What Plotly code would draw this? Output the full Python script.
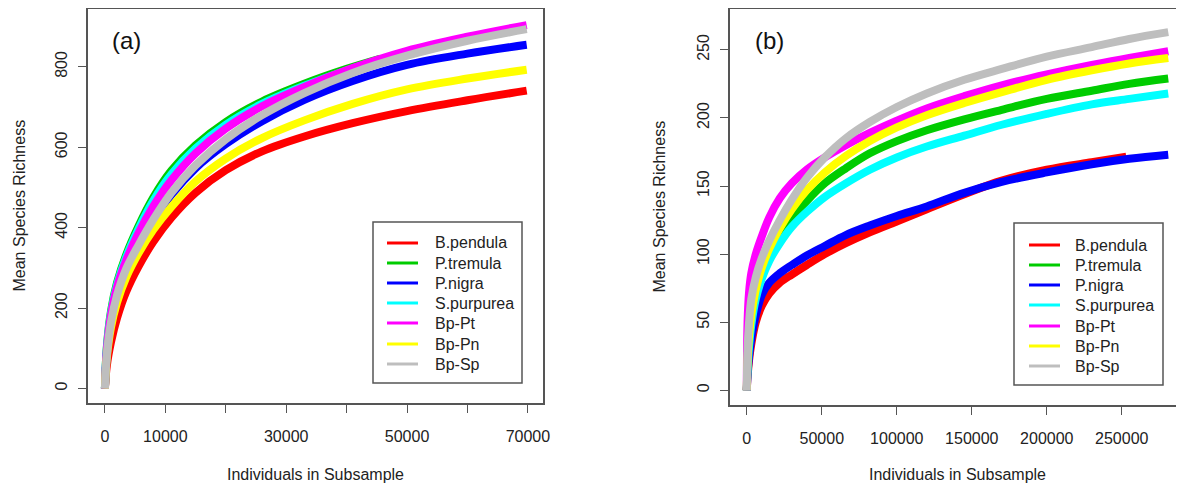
import plotly.graph_objects as go

# Series names and colours (drawn in this order, last on top)
names = ["B.pendula", "P.tremula", "P.nigra", "S.purpurea", "Bp-Pt", "Bp-Pn", "Bp-Sp"]
colors = ["#FF0000", "#00CC00", "#0000FF", "#00FFFF", "#FF00FF", "#FFFF00", "#BEBEBE"]

# Panel (a): individuals in subsample vs mean species richness
xa = [0, 300, 1000, 2000, 3500, 5500, 8000, 11000, 15000, 20000, 26000, 33000, 41000, 50000, 60000, 69800]
xa_short = [0, 300, 1000, 2000, 3500, 5500, 8000, 11000, 15000, 20000, 26000, 33000, 40000, 45500]
a_bpendula = [0, 55, 115, 175, 240, 302, 365, 425, 487, 543, 590, 627, 660, 690, 717, 741]
a_ptremula = [0, 100, 192, 263, 332, 402, 475, 542, 605, 663, 714, 758, 795, 820]
a_pnigra = [0, 80, 163, 230, 294, 352, 416, 482, 548, 608, 665, 718, 765, 805, 833, 855]
a_spurpurea = [0, 97, 187, 258, 326, 395, 467, 533, 597, 656, 708, 753, 791, 816]
a_bppt = [0, 92, 182, 252, 318, 385, 453, 518, 585, 647, 702, 750, 797, 840, 875, 904]
a_bppn = [0, 75, 152, 214, 276, 335, 395, 452, 515, 572, 623, 667, 708, 744, 771, 793]
a_bpsp = [0, 80, 165, 232, 297, 355, 420, 487, 555, 620, 680, 735, 785, 828, 865, 894]

# Panel (b)
xb = [0, 500, 1500, 3000, 6000, 10000, 15000, 22000, 30000, 40000, 52000, 66000,
      82000, 100000, 120000, 145000, 170000, 200000, 230000, 255000, 281000]
xb_red = [0, 500, 1500, 3000, 6000, 10000, 15000, 22000, 30000, 40000, 52000, 66000,
          82000, 100000, 120000, 145000, 170000, 200000, 230000, 253000]
b_bpendula = [0, 10, 22, 34, 50, 62, 71, 79, 85, 92, 100, 108, 116, 124, 133, 144, 154, 162, 167.5, 171.5]
b_ptremula = [0, 20, 38, 52, 70, 85, 98, 112, 126, 139, 152, 163, 174, 183, 191, 199, 206, 214, 220, 225, 229]
b_pnigra = [0, 12, 25, 38, 55, 70, 79, 86, 92, 99, 106, 114, 121, 128, 135, 145, 153, 160, 166, 170, 173]
b_spurpurea = [0, 15, 32, 48, 67, 82, 95, 108, 120, 131, 142, 152, 162, 171, 179, 187, 195, 203, 210, 214, 218]
b_bppt = [0, 50, 72, 86, 100, 113, 127, 141, 152, 162, 171, 180, 189, 198, 207, 216, 224, 232, 239, 244, 249]
b_bppn = [0, 22, 40, 55, 74, 90, 104, 119, 133, 147, 160, 172, 183, 193, 202, 211, 219, 228, 235, 240, 244]
b_bpsp = [0, 30, 50, 67, 83, 97, 110, 125, 140, 156, 171, 185, 197, 208, 218, 228, 236, 245, 252, 258, 263]

panel_a = [(xa, a_bpendula), (xa_short, a_ptremula), (xa, a_pnigra), (xa_short, a_spurpurea),
           (xa, a_bppt), (xa, a_bppn), (xa, a_bpsp)]
panel_b = [(xb_red, b_bpendula), (xb, b_ptremula), (xb, b_pnigra), (xb, b_spurpurea),
           (xb, b_bppt), (xb, b_bppn), (xb, b_bpsp)]

# page body has an 8px margin, so the figure is a bit smaller than the window
OFF = 8
W, H = 1184 - OFF, 488 - OFF


def px(x):
    return (x - OFF) / W


def py(y):
    return 1 - (y - OFF) / H


font = "Liberation Sans, Arial, sans-serif"
txt = "#222222"
frame = "#555555"

fig = go.Figure()

for (ax, ay, data) in [("x", "y", panel_a), ("x2", "y2", panel_b)]:
    for name, col, (xs, ys) in zip(names, colors, data):
        fig.add_trace(go.Scatter(x=xs, y=ys, mode="lines", xaxis=ax, yaxis=ay, name=name,
                                 line=dict(color=col, width=8, shape="spline", smoothing=1.0),
                                 showlegend=False, hoverinfo="skip"))

axis_common = dict(showline=True, mirror=True, linecolor=frame, linewidth=1.5,
                   ticks="outside", ticklen=8, tickcolor=frame, tickwidth=1.3,
                   showgrid=False, zeroline=False, automargin=False,
                   tickfont=dict(family=font, size=16, color=txt))

fig.update_layout(
    width=W, height=H,
    margin=dict(l=0, r=0, t=0, b=0),
    paper_bgcolor="white", plot_bgcolor="white",
    showlegend=False,
    xaxis=dict(domain=[px(88), px(543)], range=[-2800, 72500],
               tickvals=[0, 10000, 20000, 30000, 40000, 50000, 60000, 70000],
               ticktext=["0", "10000", "", "30000", "", "50000", "", "70000"],
               ticklabelstandoff=10, anchor="y", **axis_common),
    yaxis=dict(domain=[py(403), py(9)], range=[-36, 944],
               tickvals=[0, 200, 400, 600, 800], tickangle=-90,
               ticklabelstandoff=5, anchor="x", **axis_common),
    xaxis2=dict(domain=[px(730), 1.0], range=[-11200, 291500],
                tickvals=[0, 50000, 100000, 150000, 200000, 250000],
                ticktext=["0", "50000", "100000", "150000", "200000", "250000"],
                ticklabelstandoff=10, anchor="y2", **axis_common),
    yaxis2=dict(domain=[py(405), py(9)], range=[-10.8, 280],
                tickvals=[0, 50, 100, 150, 200, 250], tickangle=-90,
                ticklabelstandoff=5, anchor="x2", **axis_common),
)

# Legend boxes (one per panel) drawn as box + short line samples + labels
legend_boxes = [(373, 522, 222, 383, [243, 263, 283, 303, 323, 344, 364], 387, 418, 433),
                (1014, 1163, 223, 385, [245, 265, 285, 305, 326, 346, 366], 1029, 1060, 1073)]
for (x0, x1, y0, y1, rows, lx0, lx1, tx) in legend_boxes:
    fig.add_shape(type="rect", xref="paper", yref="paper",
                  x0=px(x0), x1=px(x1), y0=py(y1), y1=py(y0),
                  line=dict(color=frame, width=1.5), fillcolor="white", layer="above")
    for name, col, ry in zip(names, colors, rows):
        fig.add_shape(type="line", xref="paper", yref="paper",
                      x0=px(lx0), x1=px(lx1), y0=py(ry), y1=py(ry),
                      line=dict(color=col, width=3), layer="above")
        fig.add_annotation(text=name, xref="paper", yref="paper", x=px(tx), y=py(ry),
                           xanchor="left", yanchor="middle", showarrow=False,
                           font=dict(size=16, family=font, color=txt))

annots = [
    dict(text="(a)", x=px(126), y=py(41), font=dict(size=24, family=font, color="#111111")),
    dict(text="(b)", x=px(769), y=py(41), font=dict(size=24, family=font, color="#111111")),
    dict(text="Individuals in Subsample", x=px(315.5), y=py(474),
         font=dict(size=16, family=font, color=txt)),
    dict(text="Individuals in Subsample", x=px(957), y=py(474),
         font=dict(size=16, family=font, color=txt)),
    dict(text="Mean Species Richness", x=px(19), y=py(205.5), textangle=-90,
         font=dict(size=16, family=font, color=txt)),
    dict(text="Mean Species Richness", x=px(659), y=py(206.5), textangle=-90,
         font=dict(size=16, family=font, color=txt)),
]
for a in annots:
    fig.add_annotation(xref="paper", yref="paper", showarrow=False,
                       xanchor="center", yanchor="middle", **a)

fig.write_html("out.html")
